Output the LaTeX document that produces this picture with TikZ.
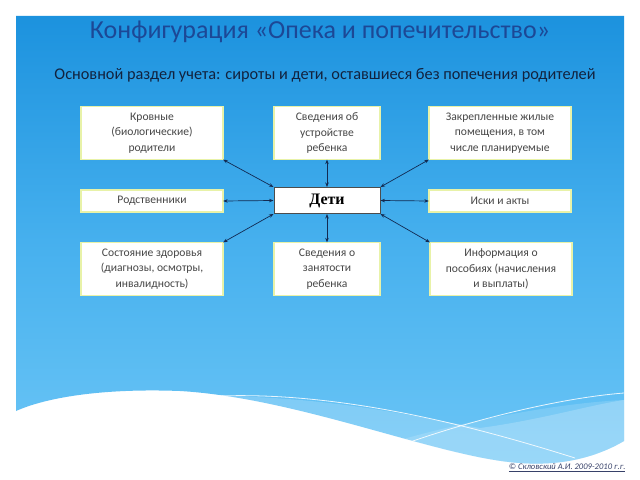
\documentclass[tikz,border=0pt]{standalone}
\usepackage{fontspec}
\setmainfont{Carlito}
\newfontfamily\serifbold{Liberation Serif}
\usetikzlibrary{arrows.meta}
\definecolor{bgtop}{RGB}{28,146,222}
\definecolor{bgmid}{RGB}{70,176,238}
\definecolor{bgbot}{RGB}{108,198,246}
\definecolor{titlecol}{RGB}{28,72,150}
\definecolor{subcol}{RGB}{18,34,62}
\definecolor{boxtext}{RGB}{70,70,70}
\definecolor{boxglow}{RGB}{232,242,168}
\definecolor{arrowcol}{RGB}{18,42,82}
\definecolor{footcol}{RGB}{55,65,105}
\tikzset{
  infobox/.style={draw=gray!80!black, double=boxglow, line width=0.3bp, double distance=1.3bp,
    fill=white, text=boxtext, align=center, font=\fontsize{11.6bp}{15.5bp}\selectfont,
    inner sep=0pt, minimum width=142bp},
  centerbox/.style={draw=gray!60!black, line width=1bp, fill=white, inner sep=0pt,
    minimum width=106bp, minimum height=26bp, font=\serifbold\bfseries\fontsize{16bp}{18bp}\selectfont},
  link/.style={draw=arrowcol, line width=0.7bp, {Stealth[length=4.5bp,width=3.5bp]}-{Stealth[length=4.5bp,width=3.5bp]}}
}
\begin{document}
\begin{tikzpicture}[x=1bp,y=-1bp]
\useasboundingbox (0,0) rectangle (640,480);
\fill[white] (0,0) rectangle (640,480);
% blue background with wave bottom
\shade[top color=bgtop, bottom color=bgbot, middle color=bgmid]
  (16,16) -- (624,16) -- (624,441)
  .. controls (595,458) and (560,466) .. (520,463)
  .. controls (440,458) and (300,398) .. (180,391)
  .. controls (100,388) and (45,398) .. (16,411) -- cycle;
% lighter band
\fill[white, opacity=0.2]
  (200,396) .. controls (330,395) and (420,418) .. (480,428)
  .. controls (540,420) and (590,405) .. (624,400) -- (624,441)
  .. controls (595,458) and (560,466) .. (520,463)
  .. controls (440,458) and (300,400) .. (200,396) -- cycle;
\fill[white, opacity=0.15]
  (400,440) .. controls (470,420) and (560,403) .. (624,400) -- (624,441)
  .. controls (595,458) and (560,466) .. (520,463)
  .. controls (470,460) and (430,452) .. (400,440) -- cycle;
% thin white lines
\draw[white, line width=0.8bp, opacity=0.85] (200,397) .. controls (330,388) and (470,425) .. (575,458);
\draw[white, line width=0.8bp, opacity=0.85] (396,447) .. controls (470,420) and (560,398) .. (624,393);
% title and subtitle
\node[text=titlecol, font=\fontsize{26bp}{29bp}\selectfont] (title) at (320,32) {Конфигурация «Опека и попечительство»};
\node[text=subcol, font=\fontsize{16.3bp}{19bp}\selectfont] (sub) at (325,75) {Основной раздел учета: сироты и дети, оставшиеся без попечения родителей};
% boxes
\node[infobox, minimum height=53bp] (kr) at (152,133) {Кровные\\(биологические)\\родители};
\node[infobox, minimum height=53bp, minimum width=106bp] (ust) at (327,133) {Сведения об\\устройстве\\ребенка};
\node[infobox, minimum height=53bp] (zak) at (500,133) {Закрепленные жилые\\помещения, в том\\числе планируемые};
\node[infobox, minimum height=22bp] (rod) at (152,201) {Родственники};
\node[centerbox] (deti) at (327,200.5) {Дети};
\node[infobox, minimum height=22bp] (isk) at (500,201) {Иски и акты};
\node[infobox, minimum height=53bp] (sost) at (152,269) {Состояние здоровья\\(диагнозы, осмотры,\\инвалидность)};
\node[infobox, minimum height=53bp, minimum width=106bp] (zan) at (327,269) {Сведения о\\занятости\\ребенка};
\node[infobox, minimum height=53bp] (inf) at (501,269) {Информация о\\пособиях (начисления\\и выплаты)};
% connectors
\draw[link] (kr.south east) -- (deti.north west);
\draw[link] (ust.south) -- (deti.north);
\draw[link] (zak.south west) -- (deti.north east);
\draw[link] (rod.east) -- (deti.west);
\draw[link] (isk.west) -- (deti.east);
\draw[link] (sost.north east) -- (deti.south west);
\draw[link] (zan.north) -- (deti.south);
\draw[link] (inf.north west) -- (deti.south east);
% footer
\node[text=footcol, font=\itshape\fontsize{8.6bp}{9.6bp}\selectfont, anchor=east] (foot) at (629,468) {\underline{© Скловский А.И. 2009-2010 г.г.}};
\end{tikzpicture}
\end{document}
